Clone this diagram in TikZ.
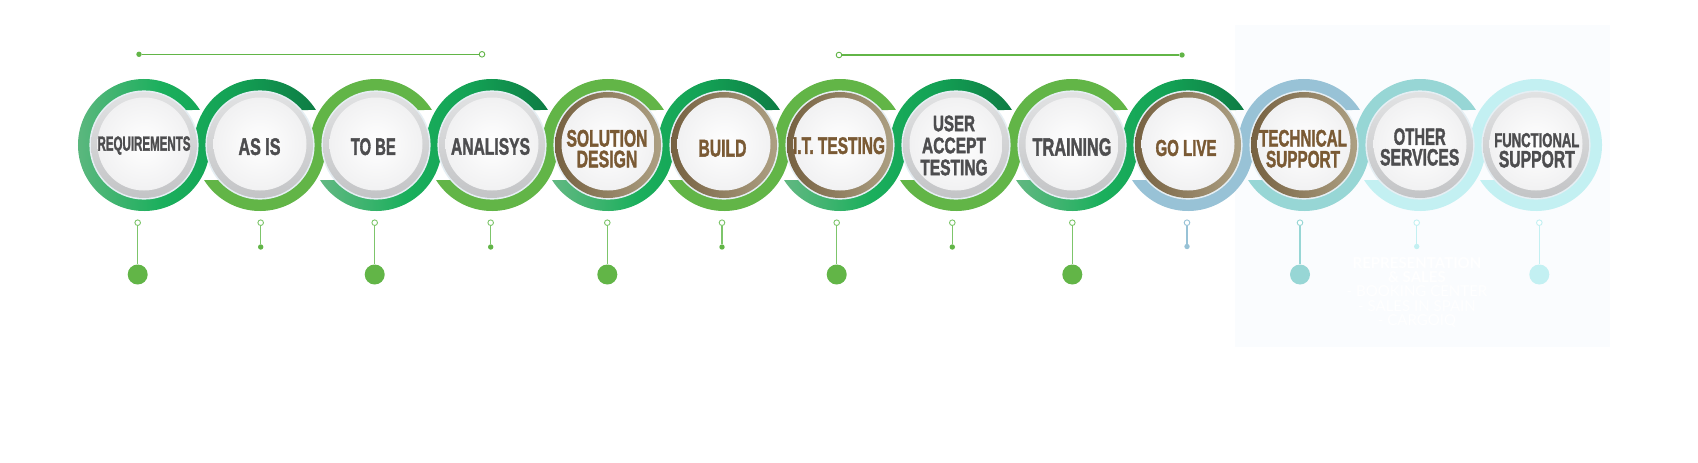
\documentclass[tikz,border=0pt]{standalone}
\usepackage{fontspec}
\usepackage{graphicx}
\usetikzlibrary{calc}
\newfontfamily\lab[FakeBold=2]{Liberation Sans}
\newfontfamily\hid{Lato}
\definecolor{gtext}{HTML}{4D4D4F}
\definecolor{btext}{HTML}{7A5A34}
\definecolor{lgreen}{HTML}{62B547}
\definecolor{stemg}{HTML}{7DC56B}
\definecolor{grA}{HTML}{62B882}
\definecolor{grM}{HTML}{1AAF5C}
\definecolor{grM2}{HTML}{13A255}
\definecolor{grB}{HTML}{0E7C44}
\definecolor{blueg}{HTML}{98C2D6}
\definecolor{tealc}{HTML}{97D6D5}
\definecolor{cyanl}{HTML}{C3F0F2}
\definecolor{ringtop}{HTML}{E1E2E3}
\definecolor{ringbot}{HTML}{C3C4C6}
\definecolor{brA}{HTML}{766141}
\definecolor{brB}{HTML}{ADA083}
\definecolor{halo}{HTML}{E6EFF4}
\definecolor{discedge}{HTML}{F1F1F2}
\definecolor{panel}{HTML}{FAFCFE}
\pgfdeclarehorizontalshading{gshade}{100bp}{color(0bp)=(grA); color(25bp)=(grA); color(44bp)=(grM); color(58bp)=(grM2); color(75bp)=(grB); color(100bp)=(grB)}
\newcommand\ribbonpath[7]{%
 \path[#7] ($(#1)+(#3:66pt)$) arc[start angle=#3,end angle=360,radius=66pt]
  -- ($(#2)+(180:53.5pt)$) arc[start angle=180,end angle=#5,radius=53.5pt]
  -- ($(#2)+(#6:66pt)$) arc[start angle=#6,end angle=180,radius=66pt]
  -- ($(#1)+(0:53.5pt)$) arc[start angle=360,end angle=#4,radius=53.5pt] -- cycle;}
\begin{document}
\begin{tikzpicture}[x=1pt,y=1pt,
  lbl/.style={inner sep=0pt, font=\lab\bfseries},
  ml/.style={align=center, font=\lab\bfseries\fontsize{10pt}{#1}\selectfont},
  gribbon/.style={shade, shading=gshade},
  ico/.style={circle, draw=#1, line width=0.9pt, fill=white, minimum size=5.6pt, inner sep=0pt},
  dot/.style={circle, fill=#1, inner sep=0pt},
  stemline/.style={draw=#1, line width=1.4pt},
  topline/.style={draw=lgreen, line width=1.4pt},
  hidtext/.style={text=white, align=center, inner sep=0pt}]
\useasboundingbox (0,0) rectangle (1698,-463);
\fill[white] (0,0) rectangle (1698,-463);
\fill[panel] (1235,-25) rectangle (1610,-347);
\foreach \i in {0,...,12} \coordinate (c\i) at ({144+116*\i},-145);
% ribbons
\ribbonpath{c0}{c1}{32.03}{40.86}{40.86}{32.03}{gribbon}
\ribbonpath{c1}{c2}{212.03}{220.86}{40.86}{32.03}{fill=lgreen}
\ribbonpath{c2}{c3}{212.03}{220.86}{40.86}{32.03}{gribbon}
\ribbonpath{c3}{c4}{212.03}{220.86}{40.86}{32.03}{fill=lgreen}
\ribbonpath{c4}{c5}{212.03}{220.86}{40.86}{32.03}{gribbon}
\ribbonpath{c5}{c6}{212.03}{220.86}{40.86}{32.03}{fill=lgreen}
\ribbonpath{c6}{c7}{212.03}{220.86}{40.86}{32.03}{gribbon}
\ribbonpath{c7}{c8}{212.03}{220.86}{40.86}{32.03}{fill=lgreen}
\ribbonpath{c8}{c9}{212.03}{220.86}{40.86}{32.03}{gribbon}
\ribbonpath{c9}{c10}{212.03}{220.86}{40.86}{32.03}{fill=blueg}
\ribbonpath{c10}{c11}{212.03}{220.86}{40.86}{32.03}{fill=tealc}
\ribbonpath{c11}{c12}{212.03}{220.86}{-139.14}{-147.97}{fill=cyanl}
% inner discs
\foreach \n in {0,1,2,3,7,8,11,12}{
  \fill[halo] (c\n) circle[radius=54.6pt];
  \shade[top color=ringtop, bottom color=ringbot] (c\n) circle[radius=53pt];
  \shade[inner color=white, outer color=discedge] ($(c\n)+(0,1)$) circle[radius=46.5pt];
}
\foreach \n in {4,5,6,9,10}{
  \fill[halo] (c\n) circle[radius=54.6pt];
  \shade[left color=brA, right color=brB] (c\n) circle[radius=53pt];
  \shade[inner color=white, outer color=discedge] ($(c\n)+(0,1)$) circle[radius=46.5pt];
}
% labels
\node[lbl, text=gtext] (n0) at (144,-145.5) {\resizebox{93pt}{14.3pt}{REQUIREMENTS}};
\node[lbl, text=gtext] (n1) at (259.5,-146.7) {\resizebox{42pt}{16.7pt}{AS IS}};
\node[lbl, text=gtext] (n2) at (373.3,-146.7) {\resizebox{45pt}{16.7pt}{TO BE}};
\node[lbl, text=gtext] (n3) at (490.5,-146.5) {\resizebox{79pt}{16.7pt}{ANALISYS}};
\node[lbl, ml=20.7pt, text=btext] (n4) at (607,-148.7) {\resizebox{81pt}{16.7pt}{SOLUTION}\\\resizebox{60.7pt}{16.7pt}{DESIGN}};
\node[lbl, text=btext] (n5) at (722.5,-148.3) {\resizebox{48pt}{16.7pt}{BUILD}};
\node[lbl, text=btext] (n6) at (839,-145.7) {\resizebox{92pt}{16.7pt}{I.T. TESTING}};
\node[lbl, ml=22pt, text=gtext] (n7) at (954,-145.5) {\resizebox{42pt}{15.7pt}{USER}\\\resizebox{64pt}{15.7pt}{ACCEPT}\\\resizebox{67.3pt}{15.7pt}{TESTING}};
\node[lbl, text=gtext] (n8) at (1072,-147) {\resizebox{79pt}{17.3pt}{TRAINING}};
\node[lbl, text=btext] (n9) at (1186,-148) {\resizebox{61pt}{16pt}{GO LIVE}};
\node[lbl, ml=20.9pt, text=btext] (n10) at (1303,-148.7) {\resizebox{88pt}{16.5pt}{TECHNICAL}\\\resizebox{74pt}{16.5pt}{SUPPORT}};
\node[lbl, ml=20.6pt, text=gtext] (n11) at (1419.7,-147) {\resizebox{52pt}{16.4pt}{OTHER}\\\resizebox{79.3pt}{16.4pt}{SERVICES}};
\node[lbl, ml=20.2pt, text=gtext] (n12) at (1536.8,-150.3) {\resizebox{85pt}{14pt}{FUNCTIONAL}\\\resizebox{76pt}{16.5pt}{SUPPORT}};
% stems
\foreach \n/\x/\lc/\dc/\y/\s in {
  0/137.7/stemg/lgreen/274.5/20, 1/260.7/stemg/lgreen/247/5.4,
  2/374.7/stemg/lgreen/274.5/20, 3/490.7/stemg/lgreen/247/5.4,
  4/607.3/stemg/lgreen/274.5/20, 5/722/stemg/lgreen/247/5.4,
  6/836.7/stemg/lgreen/274.5/20, 7/952.3/stemg/lgreen/247/5.4,
  8/1072.3/stemg/lgreen/274.5/20, 9/1187/blueg/blueg/246.5/5.4,
  10/1300/tealc/tealc/274.5/20, 11/1416.7/cyanl/cyanl/246.5/5.4,
  12/1539.3/cyanl/cyanl/274.5/20}{
  \node[ico=\lc] (t\n) at (\x,-222.7) {};
  \node[dot=\dc, minimum size=\s pt] (d\n) at (\x,-\y) {};
  \draw[stemline=\lc] (t\n) -- (d\n);
}
% top lines
\node[dot=lgreen, minimum size=5.4pt] (la) at (139,-54.3) {};
\node[ico=lgreen] (lb) at (482,-54.3) {};
\draw[topline] (la) -- (lb);
\node[ico=lgreen] (lc) at (839,-55) {};
\node[dot=lgreen, minimum size=5.4pt] (ld) at (1182,-55) {};
\draw[topline] (lc) -- (ld);
% faint text on panel
\node[hidtext, anchor=north, font=\hid\fontsize{15pt}{14.3pt}\selectfont] (h1) at (1417,-257)
  {\textbf{REPRESENTATION}\\\textbf{\& SALES}\\- BOOKING CENTER\\- SALES IN SPAIN\\- CARGOIQ};
\end{tikzpicture}
\end{document}
